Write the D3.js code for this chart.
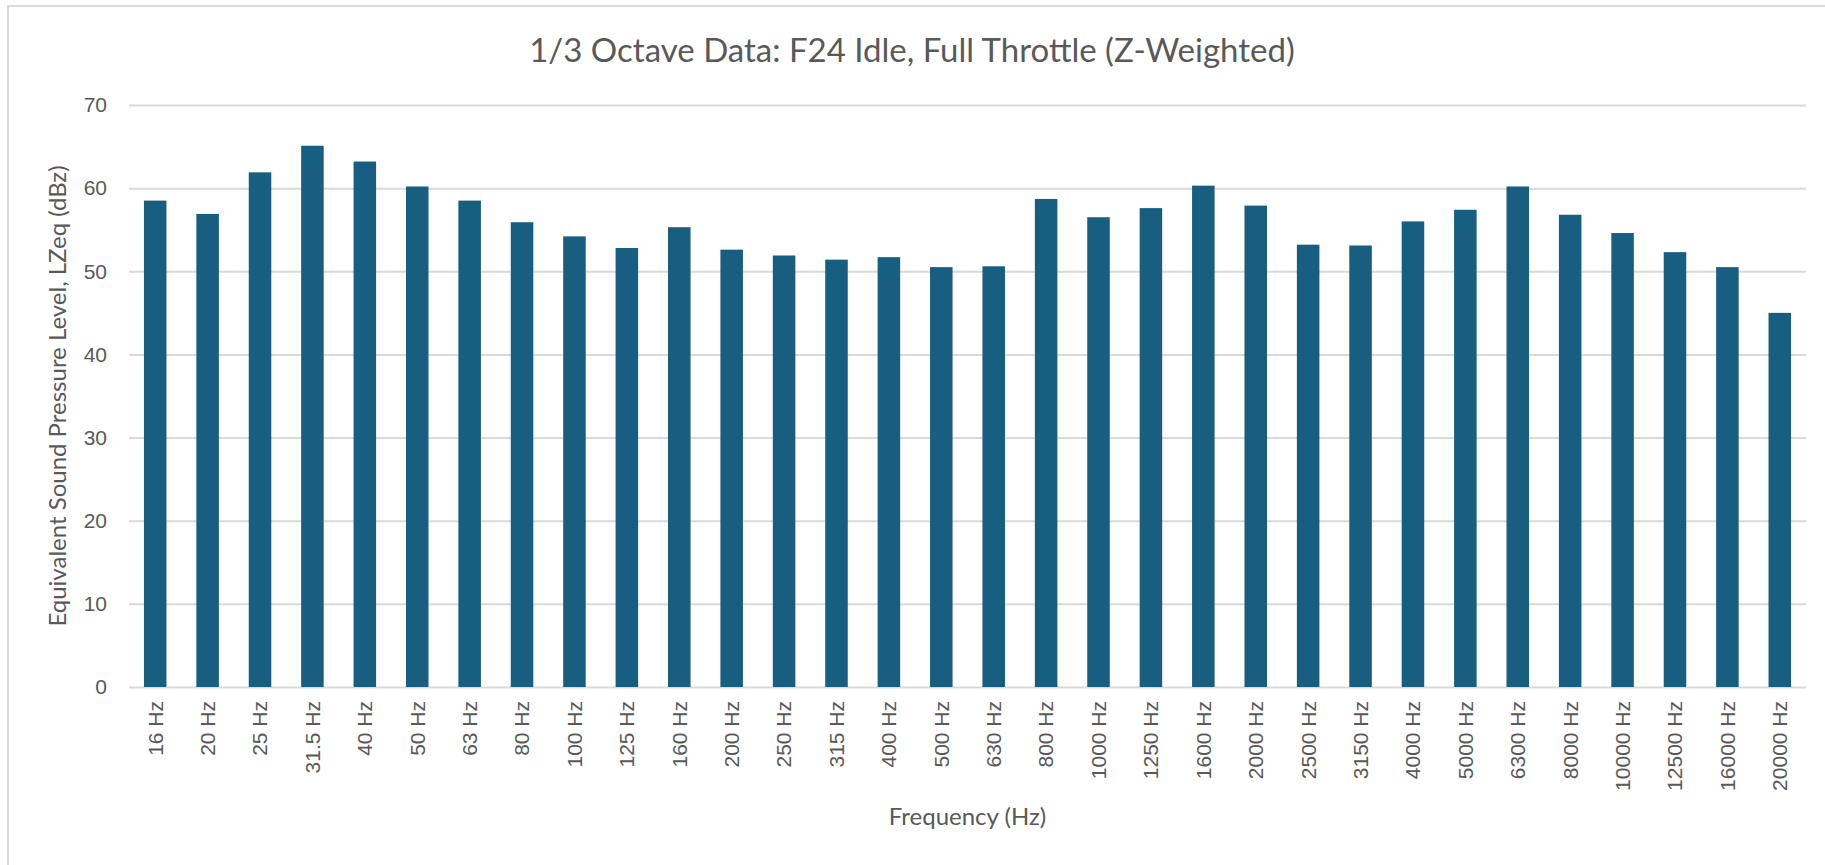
<!doctype html>
<html lang="en">
  <head>
    <meta charset="UTF-8" />
    <title>1/3 Octave Data</title>
    <script src="https://unpkg.com/d3@7.9.0/dist/d3.min.js"></script>
    <style>
      body {
        margin: 0;
        overflow: hidden;
        background: #fff;
      }
      .title {
        font-family: Lato, sans-serif;
        font-size: 33px;
        fill: #595959;
      }
      .axis-label {
        font-family: Lato, sans-serif;
        font-size: 24px;
        fill: #595959;
      }
      .tick text {
        font-family: 'Liberation Sans', Arial, sans-serif;
        font-size: 21px;
        fill: #595959;
      }
      .grid line {
        stroke: #d9d9d9;
        stroke-width: 2;
      }
      .grid path {
        display: none;
      }
    </style>
  </head>
  <body>
    <svg width="1825" height="865"></svg>

    <script>
      const bands = [
        '16 Hz', '20 Hz', '25 Hz', '31.5 Hz', '40 Hz', '50 Hz', '63 Hz',
        '80 Hz', '100 Hz', '125 Hz', '160 Hz', '200 Hz', '250 Hz', '315 Hz',
        '400 Hz', '500 Hz', '630 Hz', '800 Hz', '1000 Hz', '1250 Hz',
        '1600 Hz', '2000 Hz', '2500 Hz', '3150 Hz', '4000 Hz', '5000 Hz',
        '6300 Hz', '8000 Hz', '10000 Hz', '12500 Hz', '16000 Hz', '20000 Hz',
      ];
      const lzeq = [
        58.5, 56.9, 61.9, 65.1, 63.2, 60.2, 58.5, 55.9, 54.2, 52.8, 55.3,
        52.6, 51.9, 51.4, 51.7, 50.5, 50.6, 58.7, 56.5, 57.6, 60.3, 57.9,
        53.2, 53.1, 56.0, 57.4, 60.2, 56.8, 54.6, 52.3, 50.5, 45.0,
      ];
      const yTicks = [0, 10, 20, 30, 40, 50, 60, 70];

      const margin = { top: 105, right: 19, bottom: 178, left: 129 },
        width = 1825 - margin.left - margin.right,
        height = 865 - margin.top - margin.bottom;

      const root = d3.select('svg');

      // chart area border
      root
        .append('rect')
        .attr('x', 8)
        .attr('y', 6)
        .attr('width', 1830)
        .attr('height', 870)
        .attr('fill', '#fff')
        .attr('stroke', '#d9d9d9')
        .attr('stroke-width', 2);

      root
        .append('text')
        .attr('class', 'title')
        .attr('x', 912)
        .attr('y', 62)
        .attr('text-anchor', 'middle')
        .text('1/3 Octave Data: F24 Idle, Full Throttle (Z-Weighted)');

      const svg = root
        .append('g')
        .attr('transform', `translate(${margin.left},${margin.top})`);

      const x = d3
        .scaleBand()
        .domain(bands)
        .range([0, width])
        .paddingInner(0.57)
        .paddingOuter(0.285);

      const y = d3.scaleLinear().domain([0, 70]).range([height, 0]);

      // horizontal gridlines + y tick labels
      svg
        .append('g')
        .attr('class', 'grid')
        .call(
          d3
            .axisLeft(y)
            .tickValues(yTicks)
            .tickSize(-width)
            .tickPadding(22),
        )
        .call((g) => g.selectAll('.tick line').attr('x1', 0));

      svg
        .selectAll('.bar')
        .data(lzeq)
        .enter()
        .append('rect')
        .attr('class', 'bar')
        .attr('x', (d, i) => x(bands[i]))
        .attr('y', (d) => y(d))
        .attr('width', x.bandwidth())
        .attr('height', (d) => height - y(d))
        .attr('fill', '#175e80');

      // x axis: rotated category labels
      const xAxis = svg
        .append('g')
        .attr('class', 'grid')
        .attr('transform', `translate(0,${height})`)
        .call(d3.axisBottom(x).tickSize(0).tickPadding(0));

      xAxis
        .selectAll('.tick text')
        .attr('transform', 'rotate(-90)')
        .attr('text-anchor', 'end')
        .attr('x', -14)
        .attr('y', 0)
        .attr('dy', '0.35em');

      root
        .append('text')
        .attr('class', 'axis-label')
        .attr('x', margin.left + width / 2)
        .attr('y', 825)
        .attr('text-anchor', 'middle')
        .text('Frequency (Hz)');

      root
        .append('text')
        .attr('class', 'axis-label')
        .attr('transform', `translate(66,${margin.top + height / 2}) rotate(-90)`)
        .attr('text-anchor', 'middle')
        .text('Equivalent Sound Pressure Level, LZeq (dBz)');
    </script>
  </body>
</html>
